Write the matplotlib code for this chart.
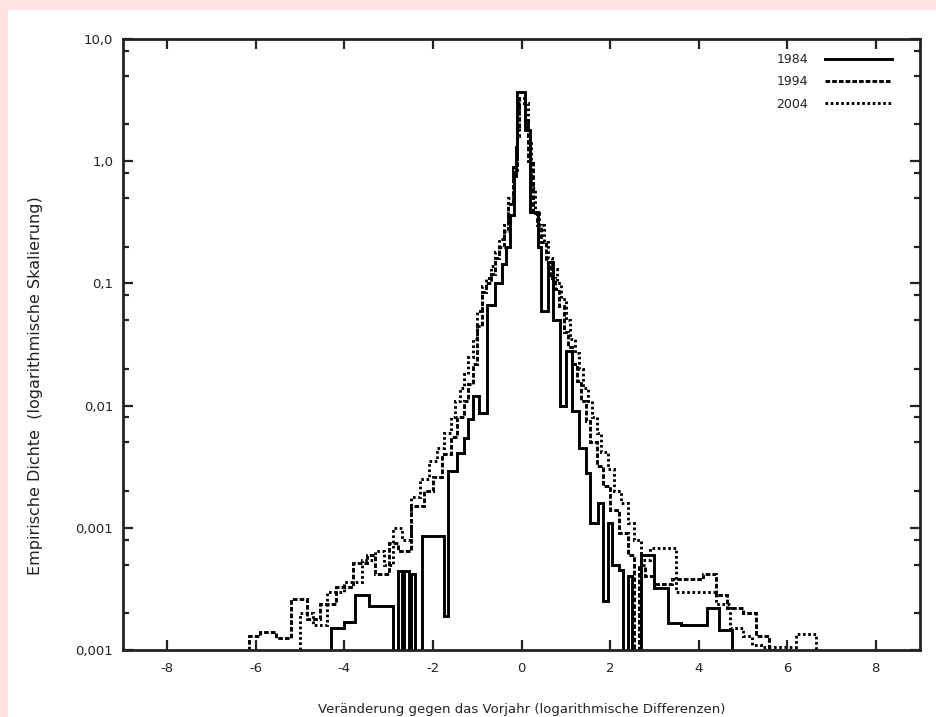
import numpy as np
import matplotlib
matplotlib.use('Agg')
import matplotlib.pyplot as plt
from matplotlib.patches import Rectangle
from matplotlib import font_manager

# ---------------- data ----------------
years = ['1984', '1994', '2004']

edges_1984 = [-4.3, -4.0, -3.75, -3.45, -2.9, -2.8, -2.7, -2.65, -2.55, -2.5, -2.4, -2.25,
              -1.75, -1.65, -1.45, -1.3, -1.2, -1.1, -0.97, -0.77, -0.6, -0.45, -0.35, -0.25,
              -0.18, -0.13, -0.1, 0.07, 0.2, 0.38, 0.43, 0.6, 0.72, 0.88, 1.0, 1.15, 1.3, 1.45,
              1.55, 1.72, 1.85, 1.95, 2.05, 2.2, 2.3, 2.4, 2.5, 2.7, 3.0, 3.3, 3.6, 4.2, 4.45, 4.75]
dens_1984 = [1.5e-4, 1.7e-4, 2.8e-4, 2.3e-4, 0, 4.4e-4, 0, 4.4e-4, 0, 4.2e-4, 0, 8.6e-4,
             1.9e-4, 2.9e-3, 4.1e-3, 5.4e-3, 7.8e-3, 1.2e-2, 8.7e-3, 6.6e-2, 0.10, 0.145, 0.20,
             0.36, 0.75, 1.3, 3.7, 1.8, 0.385, 0.2, 0.06, 0.15, 0.05, 0.01, 0.028, 0.009, 0.0045,
             0.0028, 0.0011, 0.0016, 0.00025, 0.0011, 0.0005, 0.00045, 0, 0.0004, 0, 0.0006,
             0.00032, 0.000167, 0.00016, 0.00022, 0.000145]

edges_1994 = [-6.15, -5.9, -5.55, -5.2, -4.85, -4.55, -4.2, -3.8, -3.5, -3.3, -3.0, -2.8, -2.5,
              -2.2, -2.0, -1.8, -1.6, -1.45, -1.3, -1.2, -1.1, -1.0, -0.9, -0.8, -0.7, -0.6, -0.5,
              -0.4, -0.3, -0.2, -0.1, -0.05, 0.08, 0.15, 0.25, 0.35, 0.45, 0.55, 0.65, 0.75, 0.85,
              0.95, 1.05, 1.15, 1.25, 1.35, 1.45, 1.55, 1.7, 1.85, 2.0, 2.2, 2.4, 2.55, 2.65, 2.8,
              3.0, 3.4, 4.1, 4.4, 4.65, 5.0, 5.3, 5.6, 5.8]
dens_1994 = [1.3e-4, 1.4e-4, 1.25e-4, 2.6e-4, 1.8e-4, 2.4e-4, 3.3e-4, 5.2e-4, 6.0e-4, 4.2e-4,
             7.5e-4, 6.5e-4, 1.5e-3, 2.0e-3, 2.6e-3, 4.0e-3, 5.5e-3, 8.0e-3, 1.1e-2, 1.5e-2,
             2.2e-2, 4.5e-2, 8.5e-2, 0.10, 0.12, 0.16, 0.20, 0.27, 0.45, 0.9, 1.8, 3.3, 2.2, 1.0,
             0.38, 0.3, 0.22, 0.15, 0.11, 0.09, 0.065, 0.04, 0.03, 0.022, 0.016, 0.011, 0.0075,
             0.005, 0.0032, 0.0022, 0.0014, 0.0009, 0.0006, 0, 0.0005, 0.0004, 0.00035, 0.00038,
             0.00042, 0.00028, 0.00022, 0.0002, 0.00013, 0.0001]

edges_2004 = [-5.0, -4.7, -4.4, -4.0, -3.6, -3.3, -3.1, -2.9, -2.7, -2.5, -2.3, -2.1, -1.9,
              -1.75, -1.6, -1.5, -1.4, -1.3, -1.2, -1.1, -1.0, -0.9, -0.8, -0.7, -0.6, -0.5, -0.4,
              -0.3, -0.2, -0.1, -0.05, 0.15, 0.22, 0.3, 0.4, 0.5, 0.6, 0.7, 0.8, 0.9, 1.0, 1.1,
              1.2, 1.3, 1.4, 1.5, 1.6, 1.7, 1.8, 1.95, 2.1, 2.25, 2.4, 2.55, 2.7, 2.9, 3.5, 4.4,
              4.7, 5.0, 5.2, 5.4, 6.2, 6.65]
dens_2004 = [2.0e-4, 1.6e-4, 3.0e-4, 3.6e-4, 5.5e-4, 6.5e-4, 5.0e-4, 1.0e-3, 8.0e-4, 1.8e-3,
             2.5e-3, 3.5e-3, 4.5e-3, 6.0e-3, 8.0e-3, 1.1e-2, 1.4e-2, 1.8e-2, 2.5e-2, 3.5e-2,
             6.0e-2, 9.5e-2, 0.11, 0.14, 0.18, 0.23, 0.30, 0.5, 0.85, 1.6, 3.0, 1.5, 0.6, 0.38,
             0.3, 0.22, 0.16, 0.13, 0.10, 0.075, 0.05, 0.035, 0.027, 0.02, 0.014, 0.011, 0.008,
             0.006, 0.0042, 0.003, 0.002, 0.0016, 0.0011, 0.0008, 0.00055, 0.00068, 0.0003,
             0.00024, 0.00015, 0.00013, 0.00011, 0.000105, 0.000135]

x_ticks = [-8, -6, -4, -2, 0, 2, 4, 6, 8]
x_ticklabels = ['-8', '-6', '-4', '-2', '0', '2', '4', '6', '8']
y_ticks = [1e-4, 1e-3, 1e-2, 1e-1, 1.0, 10.0]
y_ticklabels = ['0,001', '0,001', '0,01', '0,1', '1,0', '10,0']
xlabel = 'Veränderung gegen das Vorjahr (logarithmische Differenzen)'
ylabel = 'Empirische Dichte  (logarithmische Skalierung)'

# ---------------- style ----------------
available = {f.name for f in font_manager.fontManager.ttflist}
fam = ['Liberation Sans Narrow', 'DejaVu Sans'] if 'Liberation Sans Narrow' in available else ['DejaVu Sans']
plt.rcParams['font.family'] = fam

W, H = 936, 717
fig = plt.figure(figsize=(W / 100, H / 100), dpi=100, facecolor='#fde1e3')
fig.patches.append(Rectangle((8 / W, 0), 1, 1 - 10 / H, transform=fig.transFigure,
                             facecolor='white', edgecolor='none', zorder=-10))

L, R, T, B = 123, 920, 39, 650
ax = fig.add_axes([L / W, 1 - B / H, (R - L) / W, (B - T) / H])
ax.set_zorder(5)
ax.set_facecolor('white')

FLOOR = 1e-6
styles = {
    '1984': dict(linestyle='-'),
    '1994': dict(linestyle=(0, (1.6, 0.7))),
    '2004': dict(linestyle=(0, (0.9, 0.9))),
}
series = {'1984': (edges_1984, dens_1984),
          '1994': (edges_1994, dens_1994),
          '2004': (edges_2004, dens_2004)}

for yr in years:
    e, v = series[yr]
    v = np.asarray(v, dtype=float)
    v = np.where(v > 0, v, FLOOR)
    ax.stairs(v, e, baseline=FLOOR, color='black', linewidth=2.1,
              label=yr, **styles[yr])

ax.set_yscale('log')
ax.set_xlim(-9, 9)
ax.set_ylim(1e-4, 10)

ax.set_xticks(x_ticks)
ax.set_xticklabels(x_ticklabels, fontsize=9.5)
ax.set_yticks(y_ticks)
ax.set_yticklabels(y_ticklabels, fontsize=9.5)
minor = [m * 10.0 ** k for k in range(-4, 1) for m in (2, 5, 8)]
ax.set_yticks(minor, minor=True)
ax.yaxis.set_minor_formatter(matplotlib.ticker.NullFormatter())
ax.xaxis.set_minor_locator(matplotlib.ticker.NullLocator())

ax.tick_params(axis='both', which='major', direction='in', length=7, width=1.6,
               top=True, right=True, colors='#222222', labelcolor='#222222')
ax.tick_params(axis='y', which='minor', direction='in', length=4, width=1.6,
               left=True, right=True, colors='#222222')
ax.tick_params(axis='x', which='major', pad=9)
ax.tick_params(axis='y', which='major', pad=7)

for s in ax.spines.values():
    s.set_linewidth(2.0)
    s.set_color('#222222')

ax.set_xlabel(xlabel, fontsize=9.5, color='#222222')
ax.xaxis.set_label_coords(0.5, -(703 - B) / (B - T))
ax.set_ylabel(ylabel, fontsize=11.5, color='#222222')
ax.yaxis.set_label_coords(-(123 - 43) / (R - L), 1 - (386 - T) / (B - T))

leg = ax.legend(loc='upper right', bbox_to_anchor=((892 - L) / (R - L), 1 - (53 - T) / (B - T)),
                frameon=False, markerfirst=False, handlelength=5.4, handletextpad=1.3,
                labelspacing=0.75, fontsize=9, borderaxespad=0, borderpad=0)
for t in leg.get_texts():
    t.set_color('#222222')

fig.savefig('out.png', dpi=100, facecolor=fig.get_facecolor())
